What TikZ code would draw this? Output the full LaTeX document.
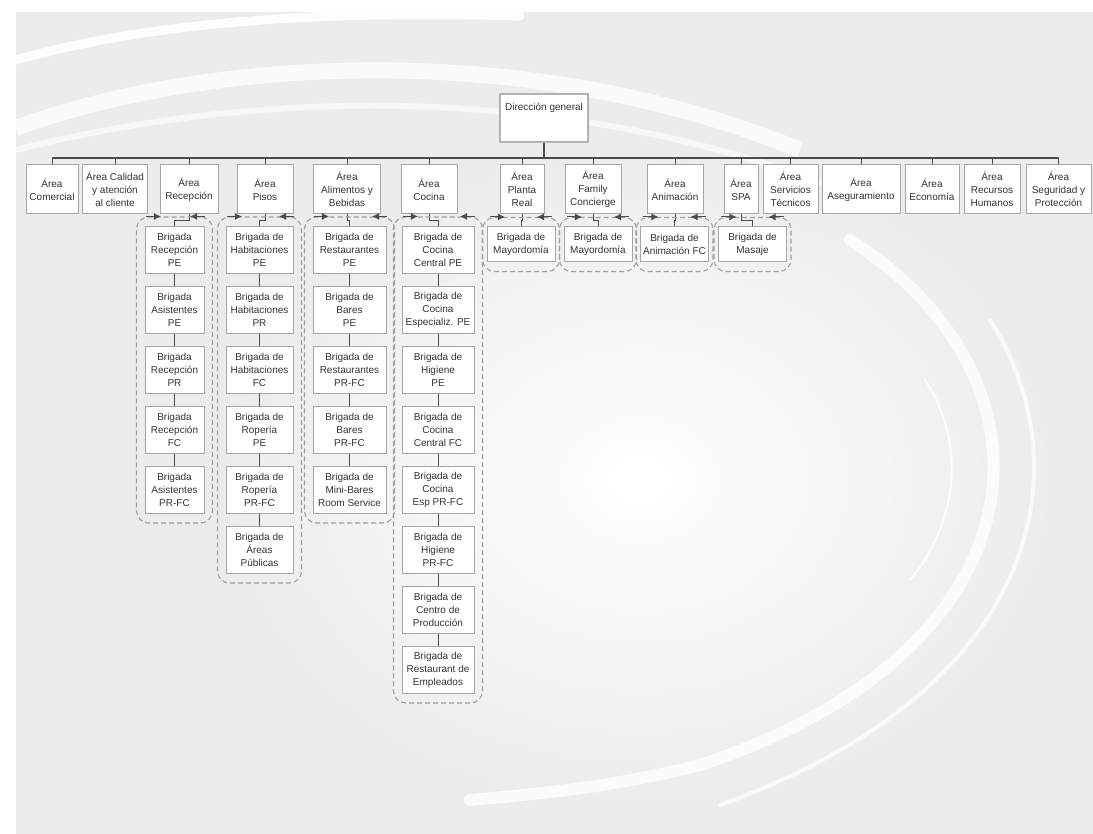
\documentclass[tikz,border=0pt]{standalone}
\usepackage{fontspec}
\setmainfont{Liberation Sans}
\usetikzlibrary{arrows.meta,positioning,fit}

\tikzset{
  box/.style={draw=gray!70, fill=white, line width=1pt, align=center, inner sep=1pt,
    font=\fontsize{10}{13}\selectfont, text=black!80},
  area/.style={box, minimum height=49pt},
  brig/.style={box, minimum height=47pt},
  brigs/.style={box, minimum height=35pt, minimum width=68pt},
  conn/.style={draw=black!70, line width=0.9pt},
  team/.style={draw=gray!75, dash pattern=on 5pt off 3pt, line width=1.1pt,
    rounded corners=12pt, inner xsep=8pt, inner ysep=9pt},
  tip/.style={conn, -{Latex[length=7pt,width=7pt]}},
}

\begin{document}
\begin{tikzpicture}[x=1pt,y=-1pt]
  \useasboundingbox (0,0) rectangle (1093,834);
  % background with white swooshes
  \fill[white] (0,0) rectangle (1093,834);
  \fill[gray!15] (16,12) rectangle (1093,834);
  \shade[inner color=white, outer color=gray!15] (640,480) circle [x radius=420pt, y radius=330pt];
  \draw[white, line width=9pt, line cap=round, opacity=0.9] (16,60) .. controls (150,22) and (320,10) .. (520,16);
  \draw[white, line width=16pt, opacity=0.75] (16,128) .. controls (200,60) and (520,35) .. (800,150);
  \draw[white, line width=6pt, opacity=0.6] (16,150) .. controls (250,90) and (560,80) .. (840,190);
  \draw[white, line width=12pt, opacity=0.8, line cap=round] (850,240) .. controls (1070,380) and (1050,650) .. (700,765) .. controls (620,785) and (560,792) .. (470,800);
  \draw[white, line width=4pt, opacity=0.7, line cap=round] (990,320) .. controls (1085,470) and (1040,690) .. (720,805);
  \draw[white, line width=2pt, opacity=0.8, line cap=round] (925,380) .. controls (965,440) and (960,520) .. (910,580);

  % top
  \node[box, draw=gray!60, line width=2.2pt, minimum width=88pt, minimum height=48pt] (dg) at (544,118) {};
  \node[font=\fontsize{10}{12}\selectfont, text=black!80, anchor=north, inner sep=1pt] (dgtxt) at ([yshift=-9pt]dg.north) {Dirección general};
  \coordinate (bus) at (0,158);

  % areas
  \node[area, minimum width=52pt] (comercial) at (52,189.5) {Área\\Comercial};
  \node[area, minimum width=65pt] (calidad) at (115,189.5) {Área Calidad\\y atención\\al cliente};
  \node[area, minimum width=58pt] (recepcion) at (189,189.5) {Área\\Recepción};
  \node[area, minimum width=56pt] (pisos) at (265,189.5) {Área\\Pisos};
  \node[area, minimum width=67pt] (alimentos) at (347,189.5) {Área\\Alimentos y\\Bebidas};
  \node[area, minimum width=56pt] (cocina) at (429,189.5) {Área\\Cocina};
  \node[area, minimum width=44pt] (planta) at (522,189.5) {Área\\Planta\\Real};
  \node[area, minimum width=56pt] (family) at (593,189.5) {Área\\Family\\Concierge};
  \node[area, minimum width=56pt] (animacion) at (675,189.5) {Área\\Animación};
  \node[area, minimum width=34pt] (spa) at (741,189.5) {Área\\SPA};
  \node[area, minimum width=55pt] (servicios) at (790.5,189.5) {Área\\Servicios\\Técnicos};
  \node[area, minimum width=78pt] (aseguramiento) at (861,189.5) {Área\\Aseguramiento};
  \node[area, minimum width=54pt] (economia) at (932,189.5) {Área\\Economía};
  \node[area, minimum width=56pt] (rrhh) at (992,189.5) {Área\\Recursos\\Humanos};
  \node[area, minimum width=65pt] (seguridad) at (1058.5,189.5) {Área\\Seguridad y\\Protección};

  \draw[conn, line width=1.6pt] (dg.south) -- (dg.south |- bus);
  \draw[conn, line width=1.6pt] (comercial.north |- bus) -- (seguridad.north |- bus);
  \draw[conn] (comercial.north) -- (comercial.north |- bus);
  \draw[conn] (calidad.north) -- (calidad.north |- bus);
  \draw[conn] (recepcion.north) -- (recepcion.north |- bus);
  \draw[conn] (pisos.north) -- (pisos.north |- bus);
  \draw[conn] (alimentos.north) -- (alimentos.north |- bus);
  \draw[conn] (cocina.north) -- (cocina.north |- bus);
  \draw[conn] (planta.north) -- (planta.north |- bus);
  \draw[conn] (family.north) -- (family.north |- bus);
  \draw[conn] (animacion.north) -- (animacion.north |- bus);
  \draw[conn] (spa.north) -- (spa.north |- bus);
  \draw[conn] (servicios.north) -- (servicios.north |- bus);
  \draw[conn] (aseguramiento.north) -- (aseguramiento.north |- bus);
  \draw[conn] (economia.north) -- (economia.north |- bus);
  \draw[conn] (rrhh.north) -- (rrhh.north |- bus);
  \draw[conn] (seguridad.north) -- (seguridad.north |- bus);

  % brigadas recepcion
  \node[brig, minimum width=59pt] (brec1) at (174.5,250) {Brigada\\Recepción\\PE};
  \node[brig, minimum width=59pt, below=12pt of brec1] (brec2) {Brigada\\Asistentes\\PE};
  \node[brig, minimum width=59pt, below=12pt of brec2] (brec3) {Brigada\\Recepción\\PR};
  \node[brig, minimum width=59pt, below=12pt of brec3] (brec4) {Brigada\\Recepción\\FC};
  \node[brig, minimum width=59pt, below=12pt of brec4] (brec5) {Brigada\\Asistentes\\PR-FC};
  % brigadas pisos
  \node[brig, minimum width=67pt] (bpis1) at (259.5,250) {Brigada de\\Habitaciones\\PE};
  \node[brig, minimum width=67pt, below=12pt of bpis1] (bpis2) {Brigada de\\Habitaciones\\PR};
  \node[brig, minimum width=67pt, below=12pt of bpis2] (bpis3) {Brigada de\\Habitaciones\\FC};
  \node[brig, minimum width=67pt, below=12pt of bpis3] (bpis4) {Brigada de\\Ropería\\PE};
  \node[brig, minimum width=67pt, below=12pt of bpis4] (bpis5) {Brigada de\\Ropería\\PR-FC};
  \node[brig, minimum width=67pt, below=12pt of bpis5] (bpis6) {Brigada de\\Áreas\\Públicas};
  % brigadas alimentos y bebidas
  \node[brig, minimum width=73pt] (bali1) at (349.5,250) {Brigada de\\Restaurantes\\PE};
  \node[brig, minimum width=73pt, below=12pt of bali1] (bali2) {Brigada de\\Bares\\PE};
  \node[brig, minimum width=73pt, below=12pt of bali2] (bali3) {Brigada de\\Restaurantes\\PR-FC};
  \node[brig, minimum width=73pt, below=12pt of bali3] (bali4) {Brigada de\\Bares\\PR-FC};
  \node[brig, minimum width=73pt, below=12pt of bali4] (bali5) {Brigada de\\Mini-Bares\\Room Service};
  % brigadas cocina
  \node[brig, minimum width=72pt] (bcoc1) at (438,250) {Brigada de\\Cocina\\Central PE};
  \node[brig, minimum width=72pt, below=12pt of bcoc1] (bcoc2) {Brigada de\\Cocina\\Especializ. PE};
  \node[brig, minimum width=72pt, below=12pt of bcoc2] (bcoc3) {Brigada de\\Higiene\\PE};
  \node[brig, minimum width=72pt, below=12pt of bcoc3] (bcoc4) {Brigada de\\Cocina\\Central FC};
  \node[brig, minimum width=72pt, below=12pt of bcoc4] (bcoc5) {Brigada de\\Cocina\\Esp PR-FC};
  \node[brig, minimum width=72pt, below=12pt of bcoc5] (bcoc6) {Brigada de\\Higiene\\PR-FC};
  \node[brig, minimum width=72pt, below=12pt of bcoc6] (bcoc7) {Brigada de\\Centro de\\Producción};
  \node[brig, minimum width=72pt, below=12pt of bcoc7] (bcoc8) {Brigada de\\Restaurant de\\Empleados};
  % brigadas sueltas
  \node[brigs] (bpla) at (521,244.5) {Brigada de\\Mayordomía};
  \node[brigs] (bfam) at (598,244.5) {Brigada de\\Mayordomía};
  \node[brigs] (bani) at (674.5,244.5) {Brigada de\\Animación FC};
  \node[brigs] (bspa) at (752.5,244.5) {Brigada de\\Masaje};

  % links inside columns
  \draw[conn] (brec1) -- (brec2) (brec2) -- (brec3) (brec3) -- (brec4) (brec4) -- (brec5);
  \draw[conn] (bpis1) -- (bpis2) (bpis2) -- (bpis3) (bpis3) -- (bpis4) (bpis4) -- (bpis5) (bpis5) -- (bpis6);
  \draw[conn] (bali1) -- (bali2) (bali2) -- (bali3) (bali3) -- (bali4) (bali4) -- (bali5);
  \draw[conn] (bcoc1) -- (bcoc2) (bcoc2) -- (bcoc3) (bcoc3) -- (bcoc4) (bcoc4) -- (bcoc5)
    (bcoc5) -- (bcoc6) (bcoc6) -- (bcoc7) (bcoc7) -- (bcoc8);

  % area to brigades
  \draw[conn] (recepcion.south) -- ++(0,6) -| (brec1.north);
  \draw[conn] (pisos.south) -- ++(0,6) -| (bpis1.north);
  \draw[conn] (alimentos.south) -- ++(0,6) -| (bali1.north);
  \draw[conn] (cocina.south) -- ++(0,6) -| (bcoc1.north);
  \draw[conn] (planta.south) -- ++(0,6) -| (bpla.north);
  \draw[conn] (family.south) -- ++(0,6) -| (bfam.north);
  \draw[conn] (animacion.south) -- ++(0,6) -| (bani.north);
  \draw[conn] (spa.south) -- ++(0,6) -| (bspa.north);

  % dashed teams
  \node[team, fit=(brec1)(brec5)] (trec) {};
  \node[team, fit=(bpis1)(bpis6)] (tpis) {};
  \node[team, fit=(bali1)(bali5)] (tali) {};
  \node[team, fit=(bcoc1)(bcoc8)] (tcoc) {};
  \node[team, inner xsep=4pt, fit=(bpla)] (tpla) {};
  \node[team, inner xsep=4pt, fit=(bfam)] (tfam) {};
  \node[team, inner xsep=4pt, fit=(bani)] (tani) {};
  \node[team, inner xsep=4pt, fit=(bspa)] (tspa) {};

  % arrows on team tops
  \draw[tip] ([xshift=10pt]trec.north west) -- ([xshift=25pt]trec.north west);
  \draw[tip] ([xshift=-8pt]trec.north east) -- ([xshift=-23pt]trec.north east);
  \draw[tip] ([xshift=10pt]tpis.north west) -- ([xshift=25pt]tpis.north west);
  \draw[tip] ([xshift=-8pt]tpis.north east) -- ([xshift=-23pt]tpis.north east);
  \draw[tip] ([xshift=10pt]tali.north west) -- ([xshift=25pt]tali.north west);
  \draw[tip] ([xshift=-8pt]tali.north east) -- ([xshift=-23pt]tali.north east);
  \draw[tip] ([xshift=10pt]tcoc.north west) -- ([xshift=25pt]tcoc.north west);
  \draw[tip] ([xshift=-8pt]tcoc.north east) -- ([xshift=-23pt]tcoc.north east);
  \draw[tip] ([xshift=8pt]tpla.north west) -- ([xshift=23pt]tpla.north west);
  \draw[tip] ([xshift=-8pt]tpla.north east) -- ([xshift=-23pt]tpla.north east);
  \draw[tip] ([xshift=8pt]tfam.north west) -- ([xshift=23pt]tfam.north west);
  \draw[tip] ([xshift=-8pt]tfam.north east) -- ([xshift=-23pt]tfam.north east);
  \draw[tip] ([xshift=8pt]tani.north west) -- ([xshift=23pt]tani.north west);
  \draw[tip] ([xshift=-8pt]tani.north east) -- ([xshift=-23pt]tani.north east);
  \draw[tip] ([xshift=8pt]tspa.north west) -- ([xshift=23pt]tspa.north west);
  \draw[tip] ([xshift=-8pt]tspa.north east) -- ([xshift=-23pt]tspa.north east);
\end{tikzpicture}
\end{document}
